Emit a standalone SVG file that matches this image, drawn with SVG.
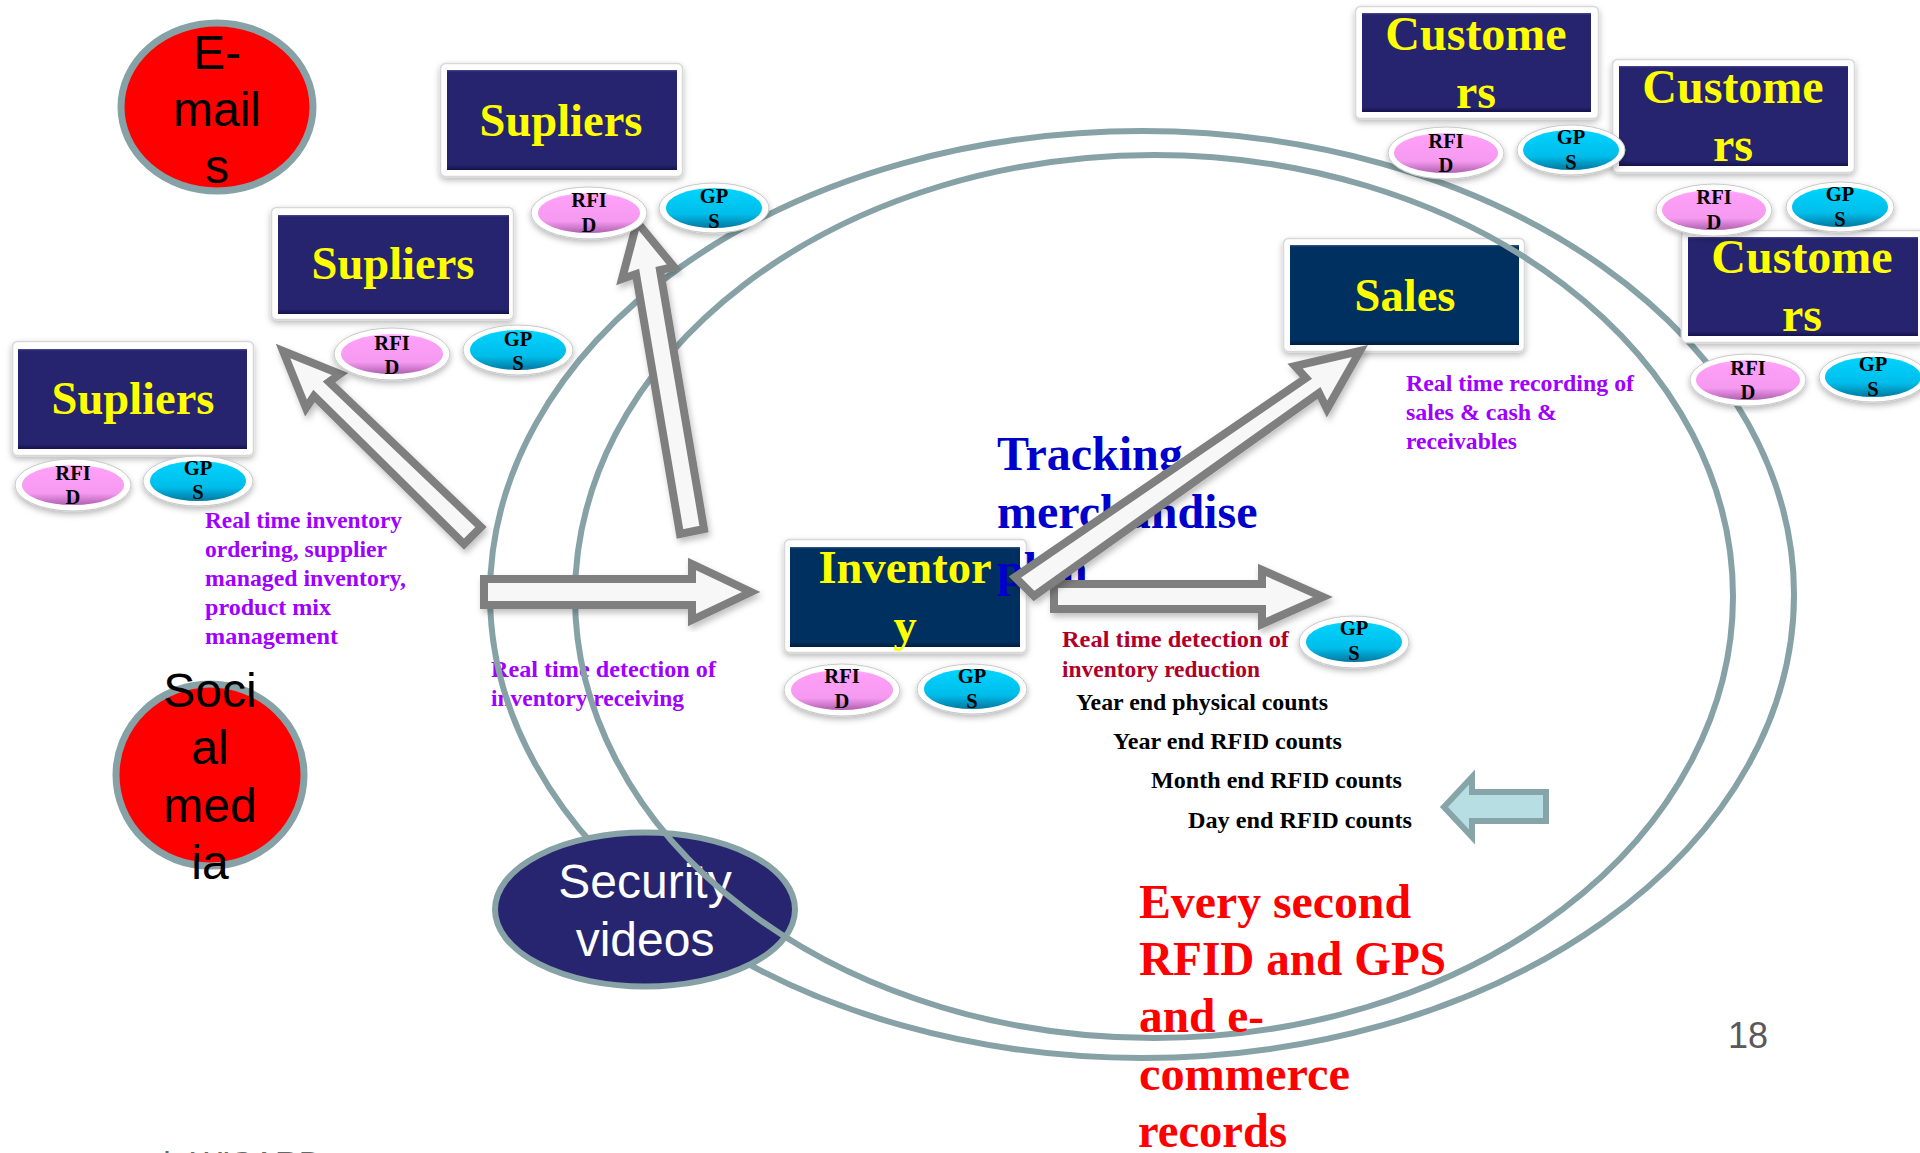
<svg xmlns="http://www.w3.org/2000/svg" width="1920" height="1153" viewBox="0 0 1920 1153">
<style>
.box{fill:#fff;stroke:#d8d8d8;stroke-width:1.5;filter:url(#sh)}
.sup{fill:url(#gs)}
.nav{fill:url(#gn)}
.t{font-family:"Liberation Serif",serif;font-weight:700;text-anchor:middle}
.y{font-size:46.500px;fill:#ffff00}
.c{font-size:48px;fill:#ffff00}
.o{font-size:20.500px;fill:#000}
.halo{fill:#fff;stroke:#c8c8c8;stroke-width:1;filter:url(#sh)}
.rfid{fill:url(#pk)}
.gps{fill:url(#bl)}
.p,.k,.d,.r,.b{font-family:"Liberation Serif",serif;font-weight:700}
.p,.k,.d{font-size:23.500px}
.p{fill:#a000ff}
.k{fill:#000}
.d{fill:#b0002a}
.r{font-size:47.500px;fill:#ff0000}
.b{font-size:48px;fill:#0000cc}
.a{font-family:"Liberation Sans",sans-serif;font-size:48px;text-anchor:middle}
.ring{fill:none;stroke:#87a2a6;stroke-width:6}
.red{fill:#ff0000;stroke:#87a2a6;stroke-width:7}
.arr{fill:#f7f7f7;stroke:#7f7f7f;stroke-width:8;stroke-linejoin:miter;filter:url(#sa)}
</style>
<defs>
<filter id="sh" x="-20%" y="-20%" width="140%" height="140%"><feDropShadow dx="0" dy="3" stdDeviation="3" flood-color="#000" flood-opacity="0.28"/></filter>
<filter id="sa" x="-20%" y="-20%" width="140%" height="140%"><feDropShadow dx="2" dy="4" stdDeviation="3" flood-color="#000" flood-opacity="0.25"/></filter>
<linearGradient id="gs" x1="0" y1="0" x2="0" y2="1"><stop offset="0" stop-color="#4a4a90"/><stop offset="0.02" stop-color="#26246f"/><stop offset="0.95" stop-color="#26246f"/><stop offset="1" stop-color="#14124a"/></linearGradient>
<linearGradient id="gn" x1="0" y1="0" x2="0" y2="1"><stop offset="0" stop-color="#3a5a85"/><stop offset="0.02" stop-color="#00305f"/><stop offset="0.95" stop-color="#00305f"/><stop offset="1" stop-color="#001c3c"/></linearGradient>
<linearGradient id="pk" x1="0" y1="0" x2="0" y2="1"><stop offset="0" stop-color="#ffb0fa"/><stop offset="0.12" stop-color="#ff9ff8"/><stop offset="0.7" stop-color="#f59af0"/><stop offset="1" stop-color="#b060b0"/></linearGradient>
<linearGradient id="bl" x1="0" y1="0" x2="0" y2="1"><stop offset="0" stop-color="#00d4ff"/><stop offset="0.65" stop-color="#00bdea"/><stop offset="1" stop-color="#0078a0"/></linearGradient>
</defs>

<g id="labels-back">
<text class="p" x="491" y="677" textLength="225" lengthAdjust="spacingAndGlyphs">Real time detection of</text><text class="p" x="491" y="706" textLength="193" lengthAdjust="spacingAndGlyphs">inventory receiving</text>
</g>

<g id="ring-outer"><ellipse class="ring" cx="1142" cy="594.5" rx="652" ry="463.5"/></g>

<g id="emails"><ellipse class="red" cx="217" cy="107" rx="96" ry="84"/>
<text class="a" x="217" y="69">E-</text><text class="a" x="217" y="126">mail</text><text class="a" x="217" y="183">s</text></g>

<g id="social"><ellipse class="red" cx="210" cy="775" rx="94" ry="91"/>
<text class="a" x="210" y="707">Soci</text><text class="a" x="210" y="764">al</text><text class="a" x="210" y="822">med</text><text class="a" x="210" y="879">ia</text></g>

<g id="security"><ellipse cx="645" cy="909.5" rx="150" ry="77" fill="#27256f" stroke="#87a2a6" stroke-width="6"/><text class="a" x="645" y="898" fill="#fff">Security</text><text class="a" x="645" y="956" fill="#fff">videos</text></g>

<g id="sales"><rect class="box" x="1283.500" y="238.500" width="241" height="113" rx="5"/><rect class="nav" x="1290" y="245" width="229" height="100"/><text class="t y" x="1405" y="311">Sales</text></g>

<g id="inventory"><rect class="box" x="784.500" y="539.500" width="242" height="113" rx="5"/><rect class="nav" x="790" y="547" width="230" height="100"/><text class="t y" x="905" y="583">Inventor</text><text class="t y" x="905" y="641">y</text>
</g>

<g id="tracking">
<text class="b" x="997" y="470">Tracking</text><text class="b" x="997" y="528">merchandise</text><text class="b" x="997" y="586">plan</text>
</g>

<g id="ring-inner"><ellipse class="ring" cx="1154" cy="596.5" rx="579" ry="441.5"/></g>

<g id="connectors">
<polygon class="arr" points="283,351 306,408 314,396 464,544 481,527 329,382 340,374"/>
<polygon class="arr" points="637,222 622,279 636,274 680,534 704,529 660,270 674,267"/>
<polygon class="arr" points="484,579 692,579 692,564 751,592 692,620 692,605 484,605"/>
<polygon class="arr" points="1054,584 1262,584 1262,570 1323,597 1262,624 1262,609 1054,609"/>
<polygon class="arr" points="1360,351 1295,366 1306,378 1015,577 1034,596 1319,393 1327,409"/>
<polygon points="1444,807 1472,777 1472,792 1546,792 1546,821 1472,821 1472,837" fill="#b7dee2" stroke="#87a4a8" stroke-width="6"/>
</g>

<g id="sup1"><rect class="box" x="12.500" y="341.500" width="241" height="114" rx="5"/><rect class="sup" x="18" y="349" width="229" height="100"/><text class="t y" x="133" y="414">Supliers</text></g>
<g id="sup2"><rect class="box" x="271.500" y="207.500" width="242" height="112" rx="5"/><rect class="sup" x="278" y="215" width="231" height="99"/><text class="t y" x="393" y="279">Supliers</text></g>
<g id="sup3"><rect class="box" x="440.500" y="63.500" width="242" height="113" rx="5"/><rect class="sup" x="447" y="70" width="230" height="100"/><text class="t y" x="561" y="136">Supliers</text></g>
<g id="cust1"><rect class="box" x="1355.500" y="6.500" width="243" height="112" rx="5"/><rect class="sup" x="1362" y="13" width="229" height="99"/><text class="t c" x="1476" y="50">Custome</text><text class="t c" x="1476" y="108">rs</text></g>
<g id="cust2"><rect class="box" x="1612.500" y="59.500" width="242" height="113" rx="5"/><rect class="sup" x="1619" y="66" width="229" height="100"/><text class="t c" x="1733" y="103">Custome</text><text class="t c" x="1733" y="161">rs</text></g>
<g id="cust3"><rect class="box" x="1681.500" y="230.500" width="243" height="112" rx="5"/><rect class="sup" x="1688" y="237" width="230" height="99"/><text class="t c" x="1802" y="273">Custome</text><text class="t c" x="1802" y="331">rs</text></g>

<g id="tags-sup1"><ellipse class="halo" cx="73" cy="485" rx="58" ry="26"/><ellipse class="rfid" cx="73" cy="485" rx="51" ry="20"/><text class="t o" x="73" y="480">RFI</text><text class="t o" x="73" y="504">D</text>
<ellipse class="halo" cx="198" cy="481" rx="55" ry="25"/><ellipse class="gps" cx="198" cy="481" rx="48" ry="20"/><text class="t o" x="198" y="475">GP</text><text class="t o" x="198" y="499">S</text></g>
<g id="tags-sup2"><ellipse class="halo" cx="392" cy="354" rx="58" ry="26"/><ellipse class="rfid" cx="392" cy="354" rx="51" ry="20"/><text class="t o" x="392" y="350">RFI</text><text class="t o" x="392" y="374">D</text>
<ellipse class="halo" cx="518" cy="350" rx="55" ry="25"/><ellipse class="gps" cx="518" cy="350" rx="48" ry="20"/><text class="t o" x="518" y="346">GP</text><text class="t o" x="518" y="370">S</text></g>
<g id="tags-sup3"><ellipse class="halo" cx="589" cy="213" rx="58" ry="26"/><ellipse class="rfid" cx="589" cy="213" rx="51" ry="20"/><text class="t o" x="589" y="207">RFI</text><text class="t o" x="589" y="232">D</text>
<ellipse class="halo" cx="714" cy="208" rx="55" ry="25"/><ellipse class="gps" cx="714" cy="208" rx="48" ry="20"/><text class="t o" x="714" y="203">GP</text><text class="t o" x="714" y="228">S</text></g>
<g id="tags-cust1"><ellipse class="halo" cx="1446" cy="153" rx="58" ry="26"/><ellipse class="rfid" cx="1446" cy="153" rx="52" ry="20"/><text class="t o" x="1446" y="148">RFI</text><text class="t o" x="1446" y="172">D</text>
<ellipse class="halo" cx="1571" cy="150" rx="54" ry="25"/><ellipse class="gps" cx="1571" cy="150" rx="48" ry="20"/><text class="t o" x="1571" y="144">GP</text><text class="t o" x="1571" y="169">S</text></g>
<g id="tags-cust2"><ellipse class="halo" cx="1714" cy="210" rx="58" ry="26"/><ellipse class="rfid" cx="1714" cy="210" rx="52" ry="20"/><text class="t o" x="1714" y="204">RFI</text><text class="t o" x="1714" y="229">D</text>
<ellipse class="halo" cx="1840" cy="207" rx="54" ry="25"/><ellipse class="gps" cx="1840" cy="207" rx="48" ry="20"/><text class="t o" x="1840" y="201">GP</text><text class="t o" x="1840" y="226">S</text></g>
<g id="tags-cust3"><ellipse class="halo" cx="1748" cy="380" rx="58" ry="26"/><ellipse class="rfid" cx="1748" cy="380" rx="52" ry="20"/><text class="t o" x="1748" y="375">RFI</text><text class="t o" x="1748" y="399">D</text>
<ellipse class="halo" cx="1873" cy="377" rx="54" ry="25"/><ellipse class="gps" cx="1873" cy="377" rx="48" ry="20"/><text class="t o" x="1873" y="371">GP</text><text class="t o" x="1873" y="396">S</text></g>
<g id="tags-inv"><ellipse class="halo" cx="842" cy="690" rx="58" ry="26"/><ellipse class="rfid" cx="842" cy="690" rx="51" ry="20"/><text class="t o" x="842" y="683">RFI</text><text class="t o" x="842" y="708">D</text>
<ellipse class="halo" cx="972" cy="689" rx="55" ry="25"/><ellipse class="gps" cx="972" cy="689" rx="48" ry="20"/><text class="t o" x="972" y="683">GP</text><text class="t o" x="972" y="708">S</text></g>
<g id="tag-gps"><ellipse class="halo" cx="1354" cy="642" rx="55" ry="26"/><ellipse class="gps" cx="1354" cy="642" rx="48" ry="20"/><text class="t o" x="1354" y="635">GP</text><text class="t o" x="1354" y="660">S</text></g>

<g id="text">
<text class="p" x="205" y="528" textLength="197" lengthAdjust="spacingAndGlyphs">Real time inventory</text><text class="p" x="205" y="557" textLength="182" lengthAdjust="spacingAndGlyphs">ordering, supplier</text><text class="p" x="205" y="586" textLength="201" lengthAdjust="spacingAndGlyphs">managed inventory,</text><text class="p" x="205" y="615" textLength="126" lengthAdjust="spacingAndGlyphs">product mix</text><text class="p" x="205" y="644" textLength="133" lengthAdjust="spacingAndGlyphs">management</text>
<text class="p" x="1406" y="391" textLength="228" lengthAdjust="spacingAndGlyphs">Real time recording of</text><text class="p" x="1406" y="420" textLength="151" lengthAdjust="spacingAndGlyphs">sales &amp; cash &amp;</text><text class="p" x="1406" y="449" textLength="111" lengthAdjust="spacingAndGlyphs">receivables</text>
<text class="d" x="1062" y="647" textLength="227" lengthAdjust="spacingAndGlyphs">Real time detection of</text><text class="d" x="1062" y="677" textLength="198" lengthAdjust="spacingAndGlyphs">inventory reduction</text>
<text class="k" x="1076" y="710" textLength="252" lengthAdjust="spacingAndGlyphs">Year end physical counts</text>
<text class="k" x="1113" y="749" textLength="229" lengthAdjust="spacingAndGlyphs">Year end RFID counts</text>
<text class="k" x="1151" y="788" textLength="251" lengthAdjust="spacingAndGlyphs">Month end RFID counts</text>
<text class="k" x="1188" y="828" textLength="224" lengthAdjust="spacingAndGlyphs">Day end RFID counts</text>
<text class="r" x="1139" y="918" textLength="272" lengthAdjust="spacingAndGlyphs">Every second</text><text class="r" x="1139" y="975" textLength="307" lengthAdjust="spacingAndGlyphs">RFID and GPS</text><text class="r" x="1139" y="1032" textLength="125" lengthAdjust="spacingAndGlyphs">and e-</text><text class="r" x="1139" y="1090" textLength="211" lengthAdjust="spacingAndGlyphs">commerce</text><text class="r" x="1138" y="1147" textLength="149" lengthAdjust="spacingAndGlyphs">records</text>
<text x="1728" y="1048" font-family="Liberation Sans, sans-serif" font-size="36" fill="#595959">18</text>
<text x="154" y="1175" font-family="Liberation Sans, sans-serif" font-size="33" fill="#666">th WISARD</text>
</g>
</svg>
